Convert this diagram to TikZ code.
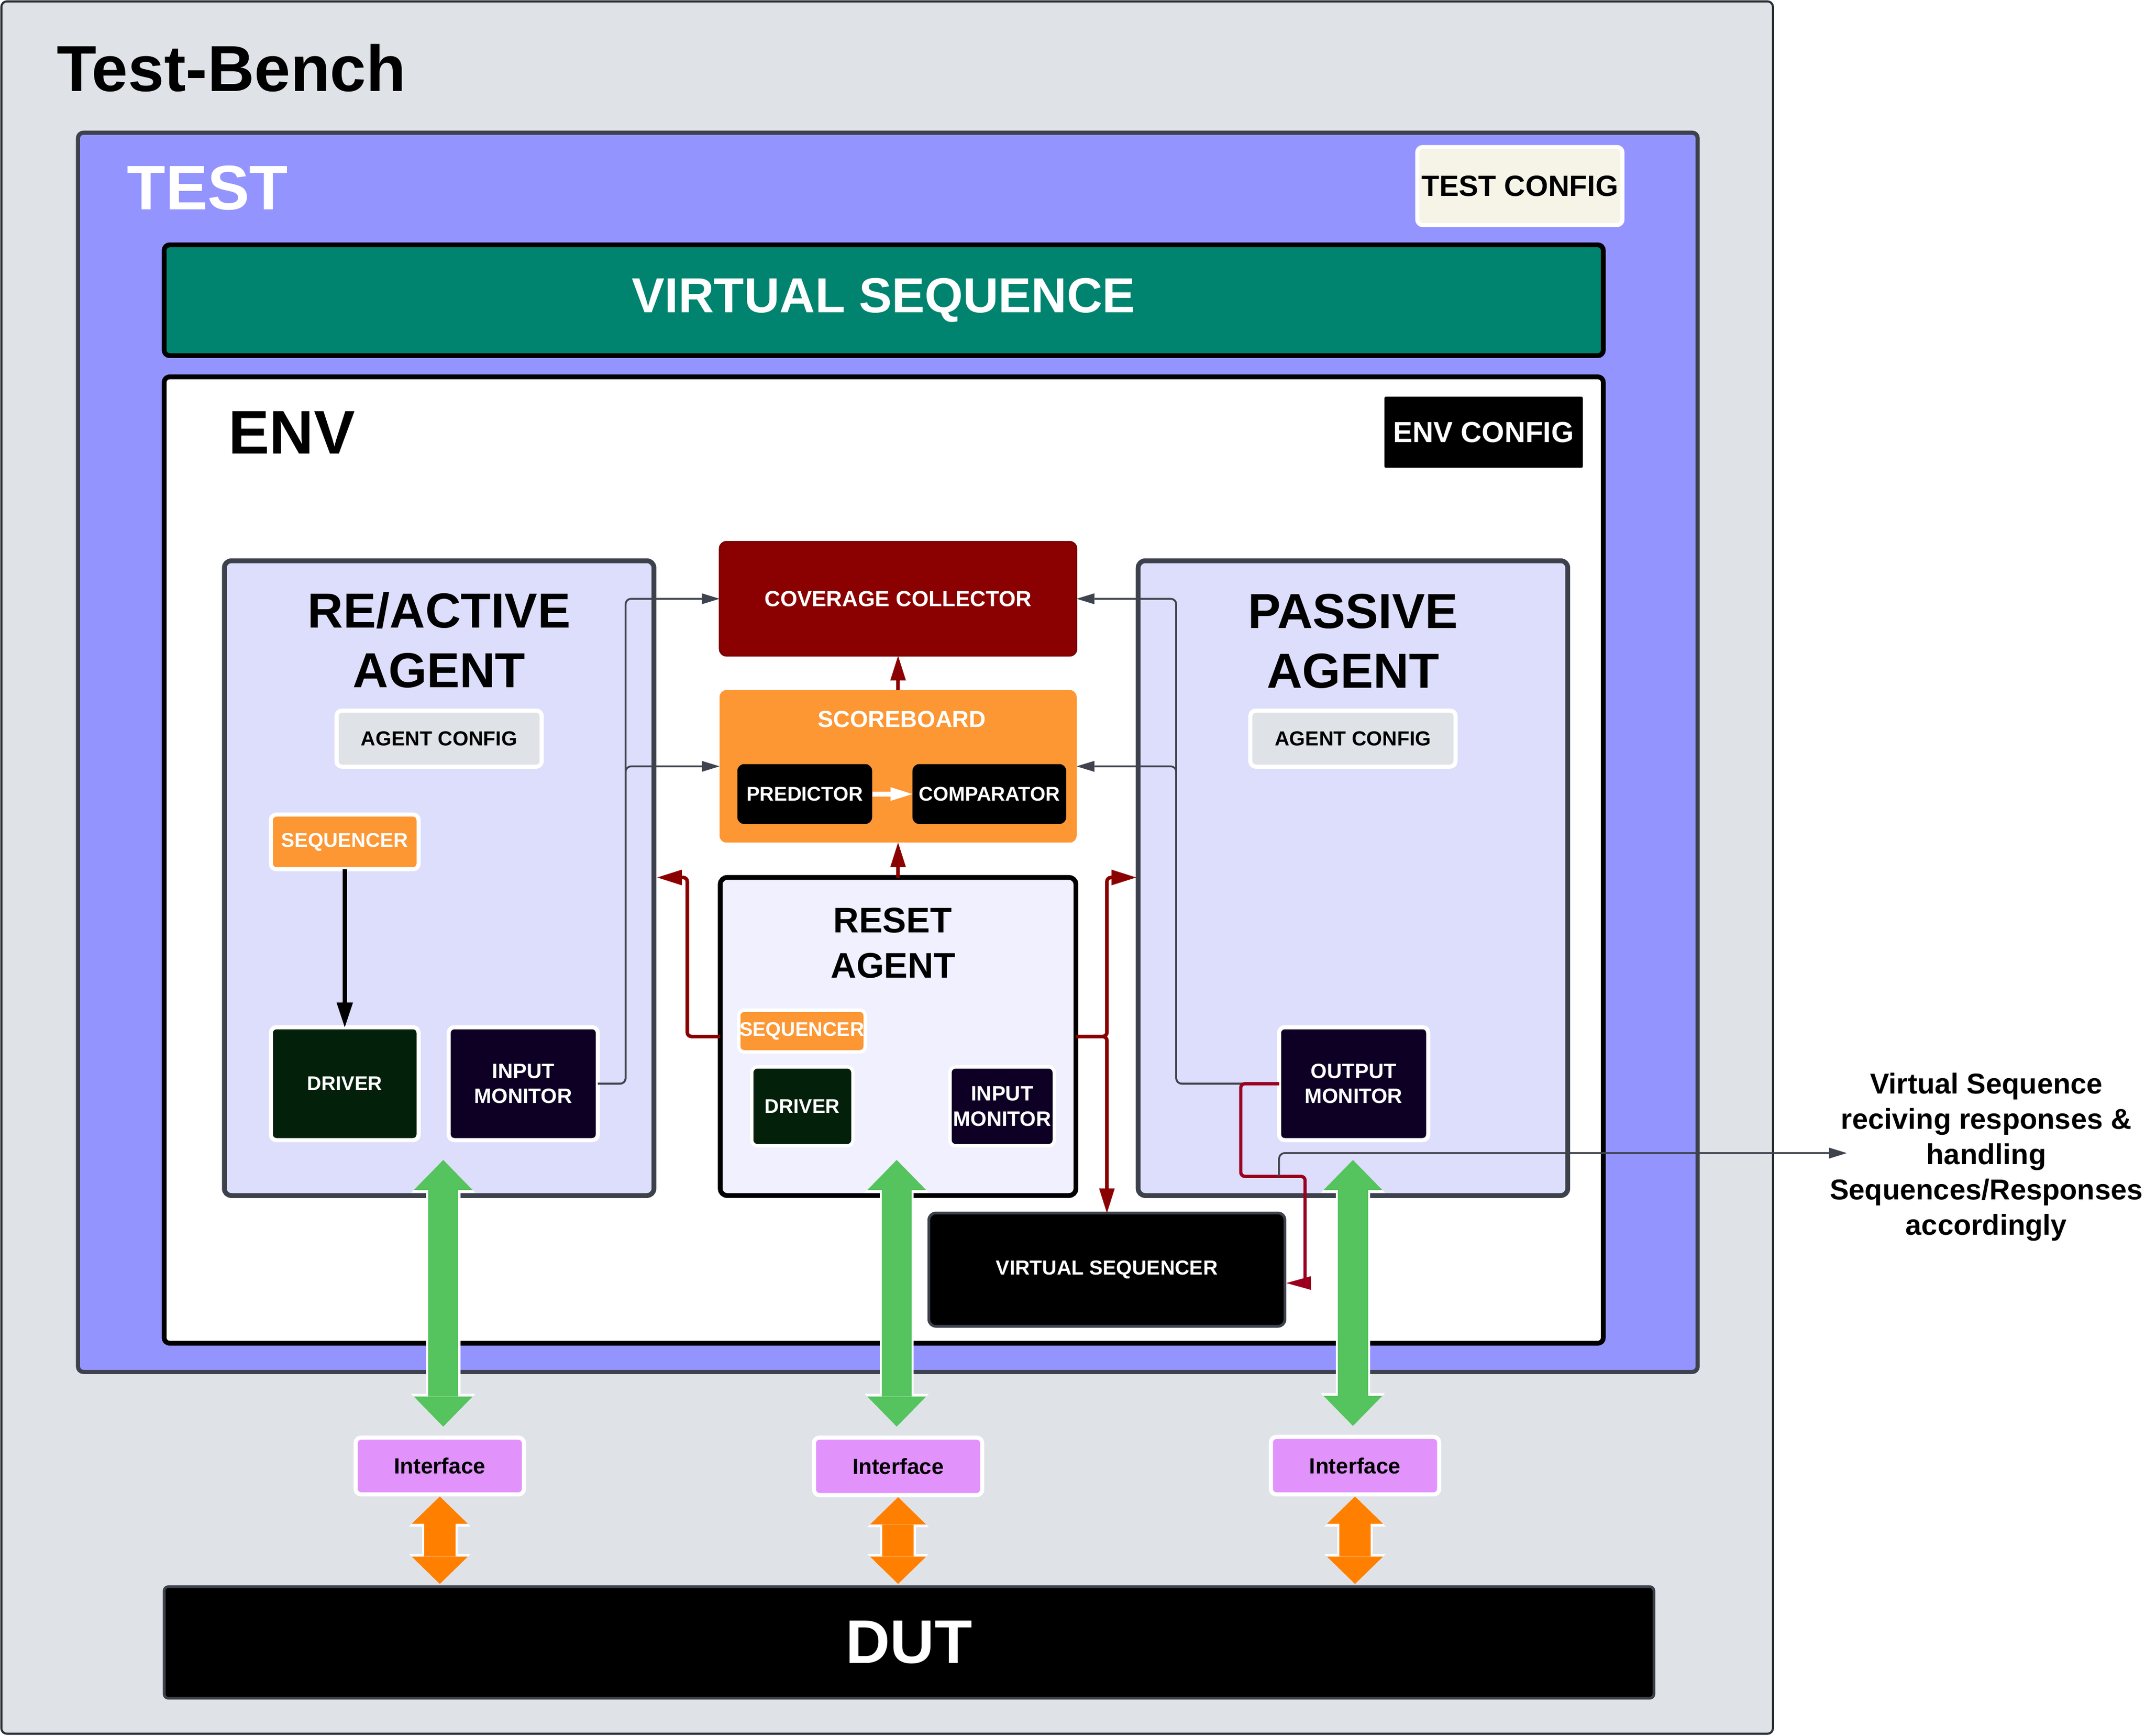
\documentclass[tikz,border=0pt]{standalone}
\usepackage{fontspec}
\setmainfont{Liberation Sans}
\usetikzlibrary{arrows.meta,calc,fit}

\definecolor{tbgray}{HTML}{DFE3E8}
\definecolor{tbline}{HTML}{2B2E35}
\definecolor{testfill}{HTML}{9494FF}
\definecolor{darkline}{HTML}{3D414B}
\definecolor{vsteal}{HTML}{00846F}
\definecolor{agentfill}{HTML}{DDDDFC}
\definecolor{resetfill}{HTML}{F0F0FE}
\definecolor{ccred}{HTML}{8B0000}
\definecolor{sborange}{HTML}{FC9734}
\definecolor{drvgreen}{HTML}{03200B}
\definecolor{monnavy}{HTML}{0D0024}
\definecolor{cfggray}{HTML}{DFE3E8}
\definecolor{cream}{HTML}{F6F4E6}
\definecolor{arrgreen}{HTML}{55C35E}
\definecolor{arrorange}{HTML}{FF7F00}
\definecolor{ifviolet}{HTML}{E192FB}
\definecolor{crimson}{HTML}{9B0020}
\definecolor{conngray}{HTML}{3E434D}

\newcommand\fsz[2]{\fontsize{#1}{#2}\selectfont\bfseries}

\tikzset{
  tbox/.style={inner sep=0pt, outer sep=0pt, rounded corners=4pt},
  wbord/.style={draw=white, line width=3pt},
  txt/.style={inner sep=0pt, outer sep=0pt},
  lbl/.style={inner sep=0pt, outer sep=0pt, align=center},
  conn/.style={draw=conngray, line width=1.3pt, rounded corners=4pt,
    arrows={-Triangle[length=13pt,width=8pt,line width=0pt]}},
  rline/.style={draw=ccred, line width=2.6pt, rounded corners=3pt,
    arrows={-Triangle[length=18pt,width=11.5pt,line width=0pt]}},
  crline/.style={draw=crimson, line width=2.4pt, rounded corners=3pt,
    arrows={-Triangle[length=18pt,width=10pt,line width=0pt]}},
  garrowbg/.style={draw=white, line width=25pt,
    arrows={Triangle[length=24pt,width=47pt,line width=0pt]-Triangle[length=24pt,width=47pt,line width=0pt]}},
  garrowfg/.style={draw=arrgreen, line width=22pt,
    arrows={Triangle[length=22pt,width=43pt,line width=0pt]-Triangle[length=22pt,width=43pt,line width=0pt]}},
  oarrowbg/.style={draw=white, line width=26pt,
    arrows={Triangle[length=22pt,width=45pt,line width=0pt]-Triangle[length=22pt,width=45pt,line width=0pt]}},
  oarrowfg/.style={draw=arrorange, line width=23pt,
    arrows={Triangle[length=20pt,width=41pt,line width=0pt]-Triangle[length=20pt,width=41pt,line width=0pt]}},
}

\begin{document}
\begin{tikzpicture}[x=1pt,y=-1pt]
\useasboundingbox (0,0) rectangle (1568,1269.1);
\fill[white] (0,0) rectangle (1568,1269.1);

% containers
\node[fit={(1,1) (1296,1267.5)}, tbox, fill=tbgray, draw=tbline, line width=1.5pt] (tb) {};
\node[anchor=base west, txt, font=\fsz{47.5}{57}] (tbtitle) at (41.7,66.6) {Test-Bench};

\node[fit={(57,97) (1241,1003)}, tbox, fill=testfill, draw=darkline, line width=3pt] (test) {};
\node[anchor=base west, txt, text=white, font=\fsz{46}{55}] (testtitle) at (93,153.3) {TEST};
\node[fit={(1036,107.5) (1186,164.5)}, tbox, fill=cream, wbord] (testcfg) {};
\node[lbl, font=\fsz{21.4}{26}] (testcfgt) at (testcfg.center) {TEST CONFIG};

\node[fit={(120,179) (1172,260)}, tbox, fill=vsteal, draw=black, line width=3.5pt] (vseq) {};
\node[lbl, text=white, font=\fsz{36}{43}] (vseqt) at (vseq.center) {VIRTUAL SEQUENCE};

\node[fit={(120,275.5) (1172,982)}, tbox, fill=white, draw=black, line width=3.5pt] (env) {};
\node[anchor=base west, txt, font=\fsz{45}{54}] (envtitle) at (167,331.6) {ENV};
\node[fit={(1012,290) (1157,342)}, tbox, rounded corners=1pt, fill=black] (envcfg) {};
\node[lbl, text=white, font=\fsz{21.2}{26}] (envcfgt) at (envcfg.center) {ENV CONFIG};

% agents
\node[fit={(164,410) (478,874)}, tbox, rounded corners=5pt, fill=agentfill, draw=darkline, line width=3.5pt] (ra) {};
\node[fit={(832,410) (1146,874)}, tbox, rounded corners=5pt, fill=agentfill, draw=darkline, line width=3.5pt] (pa) {};
\node[fit={(526.5,641.5) (786.5,874)}, tbox, rounded corners=5pt, fill=resetfill, draw=black, line width=3.5pt] (reset) {};

\node[anchor=base, txt, font=\fsz{36}{43}] (ratitle1) at (321,459) {RE/ACTIVE};
\node[anchor=base, txt, font=\fsz{36}{43}] (ratitle2) at (321,502.5) {AGENT};
\node[anchor=base, txt, font=\fsz{36}{43}] (patitle1) at (989,459.4) {PASSIVE};
\node[anchor=base, txt, font=\fsz{36}{43}] (patitle2) at (989,503) {AGENT};
\node[anchor=base, txt, font=\fsz{26}{31}] (rstitle1) at (652.5,682) {RESET};
\node[anchor=base, txt, font=\fsz{26}{31}] (rstitle2) at (652.8,715) {AGENT};

\node[fit={(246,519.5) (396,560.5)}, tbox, fill=cfggray, wbord] (racfg) {};
\node[lbl, font=\fsz{14.9}{18}] (racfgt) at (racfg.center) {AGENT CONFIG};
\node[fit={(914,519.5) (1064,560.5)}, tbox, fill=cfggray, wbord] (pacfg) {};
\node[lbl, font=\fsz{14.9}{18}] (pacfgt) at (pacfg.center) {AGENT CONFIG};

\node[fit={(198,595.5) (306,635.5)}, tbox, fill=sborange, wbord] (raseq) {};
\node[lbl, text=white, font=\fsz{14.6}{18}] (raseqt) at (raseq.center) {SEQUENCER};
\node[fit={(198,751) (306,833.5)}, tbox, fill=drvgreen, wbord] (radrv) {};
\node[lbl, text=white, font=\fsz{14.5}{18}] (radrvt) at (radrv.center) {DRIVER};
\node[fit={(328,751) (437,833.5)}, tbox, fill=monnavy, wbord] (ramon) {};
\node[lbl, text=white, font=\fsz{15.2}{18}] (ramont) at (ramon.center) {INPUT\\MONITOR};
\node[fit={(935,751) (1044,833.5)}, tbox, fill=monnavy, wbord] (pamon) {};
\node[lbl, text=white, font=\fsz{15.2}{18}] (pamont) at (pamon.center) {OUTPUT\\MONITOR};

\node[fit={(540,738.5) (632.5,769)}, tbox, fill=sborange, draw=white, line width=2.5pt] (rsseq) {};
\node[lbl, text=white, font=\fsz{14.4}{18}] (rsseqt) at (rsseq.center) {SEQUENCER};
\node[fit={(549.5,780) (623.5,837.6)}, tbox, fill=drvgreen, draw=white, line width=2.5pt] (rsdrv) {};
\node[lbl, text=white, font=\fsz{14.5}{18}] (rsdrvt) at (rsdrv.center) {DRIVER};
\node[fit={(694.4,780) (770.7,837.6)}, tbox, fill=monnavy, draw=white, line width=2.5pt] (rsmon) {};
\node[lbl, text=white, font=\fsz{15.2}{18.4}] (rsmont) at (rsmon.center) {INPUT\\MONITOR};

% coverage / scoreboard
\node[fit={(526,396) (787,479.5)}, tbox, rounded corners=5pt, fill=ccred, draw=ccred!85!black, line width=1pt] (cc) {};
\node[lbl, text=white, font=\fsz{16}{19}] (cct) at (cc.center) {COVERAGE COLLECTOR};
\node[fit={(526,504.5) (787,616)}, tbox, rounded corners=5pt, fill=sborange] (sb) {};
\node[lbl, text=white, font=\fsz{17}{20}] (sbtitle) at (659.3,526) {SCOREBOARD};
\node[fit={(539,558.6) (637.5,602.4)}, tbox, rounded corners=5pt, fill=black] (pred) {};
\node[lbl, text=white, font=\fsz{14.5}{18}] (predt) at (pred.center) {PREDICTOR};
\node[fit={(667,558.6) (779.4,602.4)}, tbox, rounded corners=5pt, fill=black] (comp) {};
\node[lbl, text=white, font=\fsz{14.5}{18}] (compt) at (comp.center) {COMPARATOR};

\node[fit={(679,886.8) (939.3,969.6)}, tbox, rounded corners=5pt, fill=black, draw=darkline, line width=2pt] (vsq) {};
\node[lbl, text=white, font=\fsz{14.8}{18}] (vsqt) at (vsq.center) {VIRTUAL SEQUENCER};

% gray connectors
\draw[conn] (ramon.east) -| (457.3,437.75) -- (cc.west);
\draw[conn] (ramon.east) -| (457.3,560.25) -- (sb.west);
\draw[conn] (pamon.west) -| (859.8,437.75) -- (cc.east);
\draw[conn] (pamon.west) -| (859.8,560.25) -- (sb.east);

% internal arrows
\draw[line width=3.2pt, arrows={-Triangle[length=18pt,width=12pt,line width=0pt]}] (raseq.south) -- (radrv.north);
\draw[white, line width=3.5pt, arrows={-Triangle[length=16pt,width=10pt,line width=0pt]}] (pred.east) -- (comp.west);

% red connectors
\draw[rline] (sb.north) -- (cc.south);
\draw[rline] (reset.north) -- (sb.south);
\draw[rline] (reset.west) -| (502.4,641.5) -- ($(ra.east |- reset.north)+(2.5,0)$);
\draw[rline] (reset.east) -| (vsq.north |- reset.north) -- ($(pa.west |- reset.north)+(-1.5,0)$);
\draw[rline] (reset.east) -| (vsq.north);

\coordinate (crj) at (935,860);
\draw[crline] (pamon.west) -| (907,860) -| (954,938) -- ($(vsq.east)+(1,9.8)$);

% annotation
\coordinate (annpt) at (1350,843);
\draw[conn] (crj) |- (annpt);
\node[lbl, font=\fsz{21}{25.8}] (ann) at (1452,845.8) {Virtual Sequence\\reciving responses \&\\handling\\Sequences/Responses\\accordingly};

% interfaces and DUT
\node[fit={(260,1051) (383,1092.5)}, tbox, fill=ifviolet, wbord] (if1) {};
\node[lbl, font=\fsz{16}{19}] (if1t) at (if1.center) {Interface};
\node[fit={(595,1051) (718,1093)}, tbox, fill=ifviolet, wbord] (if2) {};
\node[lbl, font=\fsz{16}{19}] (if2t) at (if2.center) {Interface};
\node[fit={(929,1050.5) (1052,1092.5)}, tbox, fill=ifviolet, wbord] (if3) {};
\node[lbl, font=\fsz{16}{19}] (if3t) at (if3.center) {Interface};
\node[fit={(120,1160) (1209,1241.5)}, tbox, rounded corners=3pt, fill=black, draw=darkline, line width=2pt] (dut) {};
\node[lbl, text=white, font=\fsz{45}{54}] (dutt) at (dut.center) {DUT};

% green arrows
\draw[garrowbg] ($(ra.south)+(3,-26)$) -- ($(if1.north)+(2.5,-8)$);
\draw[garrowfg] ($(ra.south)+(3,-26)$) -- ($(if1.north)+(2.5,-8)$);
\draw[garrowbg] ($(reset.south)+(-1,-26)$) -- ($(if2.north)+(-1,-8)$);
\draw[garrowfg] ($(reset.south)+(-1,-26)$) -- ($(if2.north)+(-1,-8)$);
\draw[garrowbg] ($(pa.south)+(0,-26)$) -- ($(if3.north)+(-1.5,-8)$);
\draw[garrowfg] ($(pa.south)+(0,-26)$) -- ($(if3.north)+(-1.5,-8)$);

% orange arrows
\draw[oarrowbg] ($(if1.south)+(0,1.5)$) -- ($(if1.south |- dut.north)+(0,-2)$);
\draw[oarrowfg] ($(if1.south)+(0,1.5)$) -- ($(if1.south |- dut.north)+(0,-2)$);
\draw[oarrowbg] ($(if2.south)+(0,1.5)$) -- ($(if2.south |- dut.north)+(0,-2)$);
\draw[oarrowfg] ($(if2.south)+(0,1.5)$) -- ($(if2.south |- dut.north)+(0,-2)$);
\draw[oarrowbg] ($(if3.south)+(0,1.5)$) -- ($(if3.south |- dut.north)+(0,-2)$);
\draw[oarrowfg] ($(if3.south)+(0,1.5)$) -- ($(if3.south |- dut.north)+(0,-2)$);
\end{tikzpicture}
\end{document}
